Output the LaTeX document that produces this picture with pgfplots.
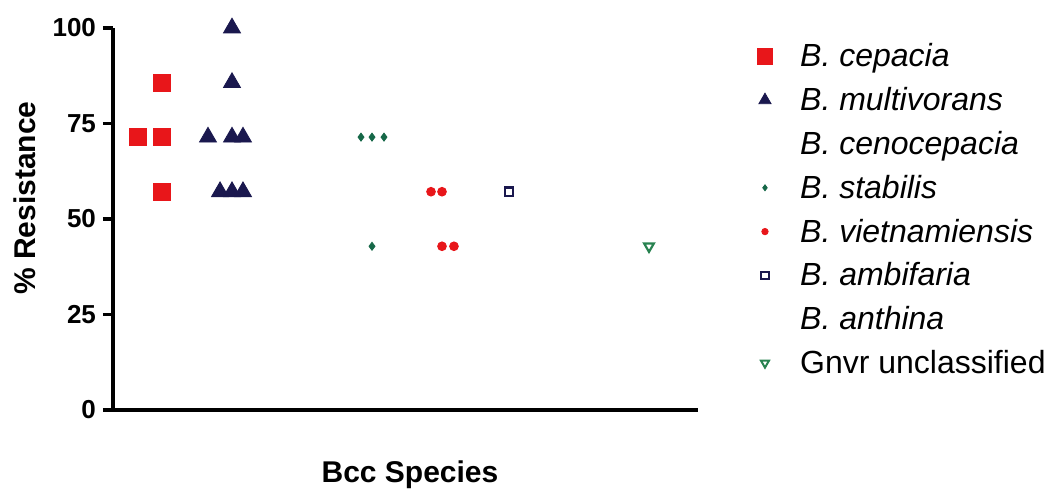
\documentclass[border=0pt]{standalone}
\usepackage{fontspec}
\setmainfont{Liberation Sans}
\usepackage{pgfplots}
\pgfplotsset{compat=1.18}

\definecolor{cepred}{RGB}{232,22,26}
\definecolor{mvnavy}{RGB}{26,24,78}
\definecolor{stabgreen}{RGB}{22,104,72}
\definecolor{gnvrgreen}{RGB}{40,130,80}

\begin{document}
\begin{tikzpicture}
\useasboundingbox (-56.5pt,-43pt) rectangle (466pt,205pt);
\begin{axis}[
  at={(0pt,0pt)}, anchor=south west,
  scale only axis, width=292.5pt, height=191pt,
  xmin=0.3, xmax=8.657, ymin=0, ymax=100,
  clip=false,
  axis x line*=bottom, axis y line*=left,
  x axis line style={-}, y axis line style={-},
  axis line style={line width=2pt, black},
  xtick=\empty,
  ytick={0,25,50,75,100},
  tick align=outside,
  major tick length=5pt,
  y tick style={line width=1.6pt, black},
  /pgf/number format/assume math mode=true,
  yticklabel style={font=\bfseries\fontsize{13}{13}\selectfont},
  xlabel={Bcc Species},
  ylabel={\% Resistance},
  label style={font=\bfseries\fontsize{15}{15}\selectfont},
  xlabel style={at={(axis description cs:0.5077,-0.191)}, anchor=base},
  ylabel style={at={(axis description cs:-0.1504,0.555)}, anchor=center, rotate=0},
  legend image code/.code={\draw[#1] plot coordinates {(0pt,0pt)}; \path[draw=none, fill=none] (-5pt,-5pt) rectangle (5pt,5pt);},
  legend cell align=left,
  legend style={at={(axis description cs:1.0974,0.983)}, anchor=north west,
    draw=none, fill=none, inner sep=0pt, outer sep=0pt,
    row sep=0pt, column sep=10.6pt,
    font=\fontsize{16}{16}\selectfont,
    nodes={text height=16.2pt, text depth=5.7pt, inner ysep=0pt}},
]
% scatter columns, one per species
\addplot[only marks, mark=square*, mark size=4.25pt, color=cepred, forget plot]
  coordinates {(0.657,71.43) (1,85.71) (1,71.43) (1,57.14)};
\addplot[only marks, mark=triangle*, mark size=4.9pt, color=mvnavy, forget plot]
  coordinates {(2,100) (2,85.71) (1.657,71.43) (2,71.43) (2.157,71.43)
               (1.829,57.14) (2,57.14) (2.157,57.14)};
\addplot[only marks, mark=diamond*, mark size=2pt, color=stabgreen, forget plot]
  coordinates {(3.843,71.43) (4,71.43) (4.171,71.43) (4,42.86)};
\addplot[only marks, mark=*, mark size=2.2pt, color=cepred, forget plot]
  coordinates {(4.843,57.14) (5,57.14) (5,42.86) (5.171,42.86)};
\addplot[only marks, mark=square, mark size=2.1pt, color=mvnavy, line width=1.1pt, forget plot]
  coordinates {(5.957,57.14)};
\addplot[only marks, mark=triangle, mark size=2.8pt, color=gnvrgreen, line width=1.1pt, mark options={rotate=180}, forget plot]
  coordinates {(7.957,42.86)};

% legend symbols
\addlegendimage{only marks, mark=square*, mark size=3.9pt, color=cepred}
\addlegendentry{\itshape B. cepacia}
\addlegendimage{only marks, mark=triangle*, mark size=3.5pt, color=mvnavy}
\addlegendentry{\itshape B. multivorans}
\addlegendimage{draw=none}
\addlegendentry{\itshape B. cenocepacia}
\addlegendimage{only marks, mark=diamond*, mark size=1.5pt, color=stabgreen}
\addlegendentry{\itshape B. stabilis}
\addlegendimage{only marks, mark=*, mark size=1.6pt, color=cepred}
\addlegendentry{\itshape B. vietnamiensis}
\addlegendimage{only marks, mark=square, mark size=1.9pt, color=mvnavy, line width=1pt}
\addlegendentry{\itshape B. ambifaria}
\addlegendimage{draw=none}
\addlegendentry{\itshape B. anthina}
\addlegendimage{only marks, mark=triangle, mark size=2.3pt, color=gnvrgreen, line width=1pt, mark options={rotate=180}}
\addlegendentry{Gnvr unclassified}
\end{axis}
\end{tikzpicture}
\end{document}
